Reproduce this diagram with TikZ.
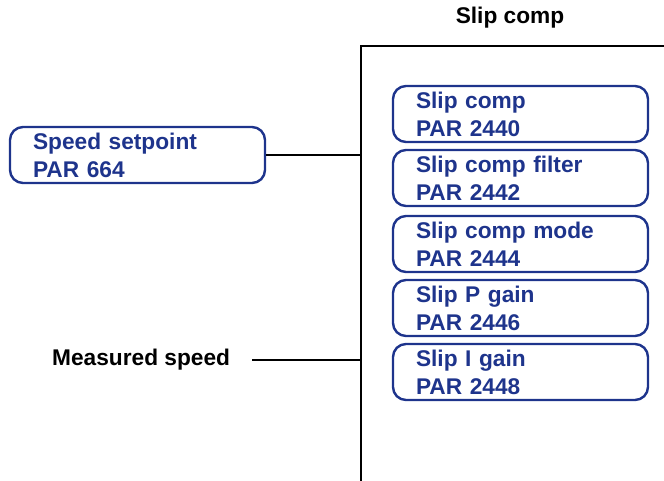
\documentclass[tikz,border=0pt]{standalone}
\usepackage{fontspec}
\setmainfont{Liberation Sans}
\definecolor{parblue}{RGB}{30,52,140}
\begin{document}
\begin{tikzpicture}[x=1pt,y=-1pt,
    parbox/.style={draw=parblue, line width=2.4pt, rounded corners=13pt, text=parblue,
      minimum width=255pt, minimum height=56pt, text width=209pt, inner xsep=23pt,
      inner ysep=0pt, align=left, font=\fontsize{22.7}{28}\selectfont\bfseries},
    sigtext/.style={inner sep=0pt, font=\fontsize{22.7}{28}\selectfont\bfseries},
    link/.style={line width=2pt}]
  \useasboundingbox (0,0) rectangle (664,481);
  \coordinate (frame) at (361,46);
  \draw[line width=1.2pt] (664,46) -- (frame) -- (361,481);
  \node[sigtext] (title) at (510,18) {Slip comp};

  \node[parbox] (setpoint) at (137.5,155) {Speed setpoint\\PAR 664};
  \node[parbox] (slipcomp) at (520.5,114) {Slip comp\\PAR 2440};
  \node[parbox] (slipfilter) at (520.5,178) {Slip comp filter\\PAR 2442};
  \node[parbox] (slipmode) at (520.5,244) {Slip comp mode\\PAR 2444};
  \node[parbox] (slippgain) at (520.5,308) {Slip P gain\\PAR 2446};
  \node[parbox] (slipigain) at (520.5,372) {Slip I gain\\PAR 2448};

  \node[sigtext, anchor=west] (measured) at (52,360) {Measured speed};

  \draw[link] (setpoint.east) -- (setpoint.east -| frame);
  \draw[link] ([xshift=22pt]measured.east) -- (measured.east -| frame);
\end{tikzpicture}
\end{document}
